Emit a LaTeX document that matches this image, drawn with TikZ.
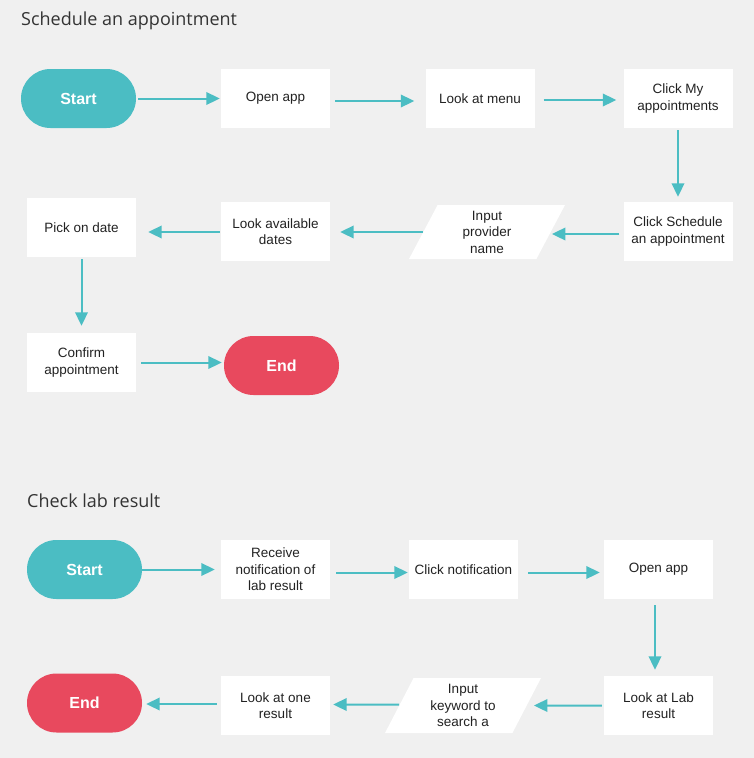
\documentclass[tikz,border=0pt]{standalone}
\usepackage{fontspec}
\setmainfont{Liberation Sans}
\newfontfamily\titlefont{Open Sans}
\usetikzlibrary{shapes.geometric,arrows.meta}
\definecolor{bgc}{HTML}{F0F0F0}
\definecolor{tealc}{HTML}{4BBDC3}
\definecolor{redc}{HTML}{E8495E}
\definecolor{txtc}{HTML}{222222}
\definecolor{titc}{HTML}{333333}
\tikzset{
  box/.style={fill=white, minimum width=109pt, minimum height=59pt, inner sep=0pt, align=center, text=txtc, font=\fontsize{13.5}{16.5}\selectfont},
  pill/.style={rounded corners=29.5pt, minimum width=115pt, minimum height=59pt, inner sep=0pt, text=white, font=\fontsize{16}{19}\selectfont\bfseries},
  startpill/.style={pill, fill=tealc},
  endpill/.style={pill, fill=redc},
  para/.style={trapezium, trapezium left angle=56, trapezium right angle=124, trapezium stretches body, minimum width=156pt, minimum height=54pt, inner sep=0pt, fill=white, align=center, text=txtc, font=\fontsize{13.5}{16.5}\selectfont},
  arr/.style={draw=tealc, line width=2pt, -{Triangle[length=13.5pt,width=12.5pt]}},
  ttl/.style={anchor=base west, inner sep=0pt, text=titc, font=\titlefont\fontsize{18}{22}\selectfont}
}
\begin{document}
\begin{tikzpicture}[x=1pt,y=-1pt]
\fill[bgc] (0,0) rectangle (754,758);
\useasboundingbox (0,0) rectangle (754,758);
% ---------- Section 1 ----------
\node[ttl] (t1) at (21,25) {Schedule an appointment};
\node[startpill] (start1) at (78.5,98.5) {Start};
\node[box] (open1) at (275.5,98.5) {Open app};
\node[box] (menu) at (480,98.5) {Look at menu};
\node[box] (clickmy) at (678,98.5) {Click My\\appointments};
\node[box] (sched) at (678,231.5) {Click Schedule\\an appointment};
\node[para] (input1) at (487,232) {Input\\provider\\name};
\node[box] (avail) at (275.5,231.5) {Look available\\dates};
\node[box] (pick) at (81.5,227.5) {Pick on date};
\node[box] (confirm) at (81.5,362.5) {Confirm\\appointment};
\node[endpill] (end1) at (281.5,365.5) {End};

\draw[arr] ([xshift=2pt]start1.east) -- ([xshift=-1pt]open1.west);
\draw[arr] ([xshift=5pt,yshift=-2.5pt]open1.east) -- ([xshift=-11pt,yshift=-2.5pt]menu.west);
\draw[arr] ([xshift=9pt,yshift=-1.5pt]menu.east) -- ([xshift=-7pt,yshift=-1.5pt]clickmy.west);
\draw[arr] ([yshift=-2pt]clickmy.south) -- ([yshift=5pt]sched.north);
\draw[arr] ([xshift=-4pt,yshift=-2.5pt]sched.west) -- ([xshift=1pt,yshift=-2.5pt]sched.west -| input1.east);
\draw[arr] (input1.west) -- ([xshift=10pt]avail.east |- input1.west);
\draw[arr] ([xshift=-1pt,yshift=-0.5pt]avail.west) -- ([xshift=12pt,yshift=-0.5pt]pick.east |- avail.west);
\draw[arr] ([yshift=-2pt]pick.south) -- ([yshift=7pt]confirm.north);
\draw[arr] ([xshift=5pt]confirm.east) -- ([xshift=-2pt]end1.west |- confirm.east);
% ---------- Section 2 ----------
\node[ttl] (t2) at (27,507) {Check lab result};
\node[startpill] (start2) at (84.5,569.5) {Start};
\node[box] (recv) at (275.5,569.5) {Receive\\notification of\\lab result};
\node[box] (clicknot) at (463.5,569.5) {Click notification};
\node[box] (open2) at (658.5,569.5) {Open app};
\node[box] (lab) at (658.5,705.5) {Look at Lab\\result};
\node[para, minimum height=55pt] (input2) at (463,705.5) {Input\\keyword to\\search a};
\node[box] (one) at (275.5,705.5) {Look at one\\result};
\node[endpill] (end2) at (84.5,703) {End};

\draw[arr] (start2.east) -- ([xshift=-6pt]recv.west);
\draw[arr] ([xshift=6pt,yshift=-3pt]recv.east) -- ([xshift=-1pt,yshift=-3pt]clicknot.west);
\draw[arr] ([xshift=10pt,yshift=-3pt]clicknot.east) -- ([xshift=-4pt,yshift=-3pt]open2.west);
\draw[arr] ([xshift=-3.5pt,yshift=-6pt]open2.south) -- ([xshift=-3.5pt,yshift=6pt]lab.north);
\draw[arr] ([xshift=-2pt]lab.west) -- ([xshift=7pt]input2.east);
\draw[arr] ([yshift=1pt]input2.west) -- ([xshift=3pt,yshift=1pt]one.east);
\draw[arr] ([xshift=-4pt,yshift=1.5pt]one.west) -- ([xshift=4pt,yshift=1.5pt]end2.east |- one.west);
\end{tikzpicture}
\end{document}
